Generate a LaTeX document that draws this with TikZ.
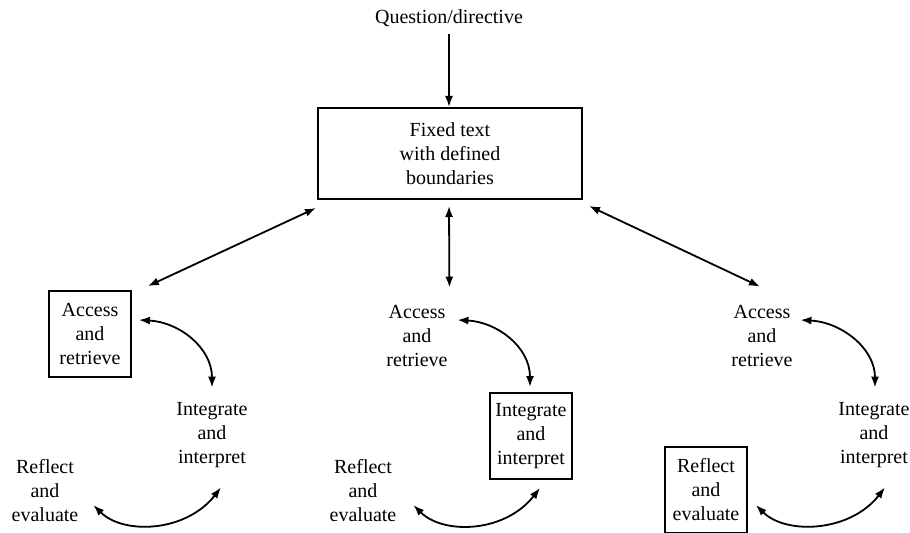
\documentclass[tikz,border=0pt]{standalone}
\usepackage{fontspec}
\setmainfont{Liberation Serif}
\usetikzlibrary{arrows.meta}

\begin{document}
\begin{tikzpicture}[
  x=0.5pt, y=-0.5pt,
  every node/.style={font=\fontsize{10}{12}\selectfont, align=center},
  stage/.style={inner sep=0pt, minimum width=41pt, minimum height=43pt},
  stagebox/.style={stage, draw, line width=0.9pt},
  mainbox/.style={draw, line width=1pt, minimum width=132pt, minimum height=45.5pt},
  link/.style={line width=0.9pt, {Latex[length=5.5pt,width=4pt]}-{Latex[length=5.5pt,width=4pt]}},
  feed/.style={line width=0.9pt, -{Latex[length=5.5pt,width=4pt]}},
]
\useasboundingbox (0,0) rectangle (910,533);

% ============ top: question and fixed text ============
\node (quest) at (449,18) {Question/directive};
\node[mainbox] (fixed) at (450,153.5) {Fixed text\\with defined\\boundaries};
\draw[feed] (quest.south) -- (quest.south |- fixed.north);

% ============ left cycle: access boxed ============
\begin{scope}[xshift=0pt]
  \node[stagebox] (acc1) at (90,334) {Access\\and\\retrieve};
  \node[stage] (int1) at (212,435) {Integrate\\and\\interpret};
  \node[stage] (ref1) at (45,491) {Reflect\\and\\evaluate};
  \draw[link] ([shift={(7,-14)}]acc1.east) .. controls +(40,2) and +(0,-40) .. ([shift={(0,-4)}]int1.north);
  \draw[link] ([shift={(9,9)}]int1.south) .. controls +(-35,45) and +(30,30) .. ([shift={(7,14)}]ref1.east);
\end{scope}

% ============ middle cycle: integrate boxed ============
\begin{scope}[xshift=160pt]
  \node[stage] (acc2) at (97,336) {Access\\and\\retrieve};
  \node[stagebox] (int2) at (211,436) {Integrate\\and\\interpret};
  \node[stage] (ref2) at (43,491) {Reflect\\and\\evaluate};
  \draw[link] ([shift={(-1,-16)}]acc2.east) .. controls +(40,2) and +(0,-40) .. ([shift={(-1,-5)}]int2.north);
  \draw[link] ([shift={(9,8)}]int2.south) .. controls +(-35,45) and +(30,30) .. ([shift={(9,14)}]ref2.east);
\end{scope}

% ============ right cycle: reflect boxed ============
\begin{scope}[xshift=331.5pt]
  \node[stage] (acc3) at (99,336) {Access\\and\\retrieve};
  \node[stage] (int3) at (211,435) {Integrate\\and\\interpret};
  \node[stagebox] (ref3) at (43,490) {Reflect\\and\\evaluate};
  \draw[link] ([shift={(-3,-16)}]acc3.east) .. controls +(40,2) and +(0,-40) .. ([shift={(1,-4)}]int3.north);
  \draw[link] ([shift={(11,9)}]int3.south) .. controls +(-35,45) and +(30,30) .. ([shift={(8,15)}]ref3.east);
\end{scope}

% links from the fixed text to each cycle
\draw[link] ([shift={(-1,8)}]fixed.south west) -- ([shift={(16,-4)}]acc1.north east);
\draw[link] ([shift={(-1,6)}]fixed.south) -- ([shift={(-9,-5)}]acc2.north east);
\draw[link] ([shift={(6,6)}]fixed.south east) -- ([shift={(-2,-6)}]acc3.north);

\end{tikzpicture}
\end{document}
